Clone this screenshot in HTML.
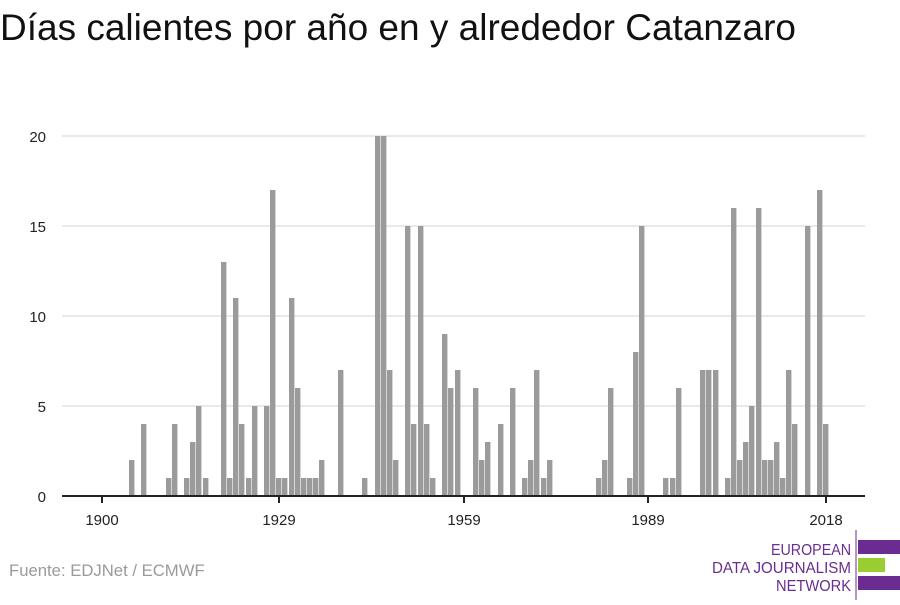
<!DOCTYPE html>
<html><head><meta charset="utf-8"><style>
body{margin:0;background:#fff;width:900px;height:600px;overflow:hidden;font-family:"Liberation Sans",sans-serif;}
</style></head><body>
<svg width="900" height="600" xmlns="http://www.w3.org/2000/svg" font-family="Liberation Sans, sans-serif">
<text x="0" y="40" font-size="37" fill="#111">Días calientes por año en y alrededor Catanzaro</text>
<g stroke="#e2e2e2" stroke-width="1.5">
<line x1="62" x2="865" y1="136" y2="136"/><line x1="62" x2="865" y1="226" y2="226"/>
<line x1="62" x2="865" y1="316" y2="316"/><line x1="62" x2="865" y1="406" y2="406"/>
</g>
<g font-size="15" fill="#222" text-anchor="end">
<text x="46" y="142">20</text><text x="46" y="232">15</text><text x="46" y="322">10</text>
<text x="46" y="412">5</text><text x="46" y="502">0</text>
</g>
<g fill="#9b9b9b" id="bars"></g>
<line x1="62" x2="865" y1="496" y2="496" stroke="#222" stroke-width="2"/>
<g stroke="#222" stroke-width="2">
<line x1="102" x2="102" y1="496" y2="503"/><line x1="279" x2="279" y1="496" y2="503"/>
<line x1="464" x2="464" y1="496" y2="503"/><line x1="648" x2="648" y1="496" y2="503"/>
<line x1="826" x2="826" y1="496" y2="503"/>
</g>
<g font-size="15" fill="#222" text-anchor="middle">
<text x="102" y="525">1900</text><text x="279" y="525">1929</text><text x="464" y="525">1959</text>
<text x="648" y="525">1989</text><text x="826" y="525">2018</text>
</g>
<text x="9" y="576" font-size="16.7" fill="#9a9a9a">Fuente: EDJNet / ECMWF</text>
<g fill="#6a2c91" font-size="16">
<text x="771" y="555" textLength="80" lengthAdjust="spacingAndGlyphs">EUROPEAN</text>
<text x="712" y="573" textLength="139" lengthAdjust="spacingAndGlyphs">DATA JOURNALISM</text>
<text x="776" y="591" textLength="75" lengthAdjust="spacingAndGlyphs">NETWORK</text>
</g>
<line x1="856" x2="856" y1="530" y2="600" stroke="#6a2c91" stroke-width="1"/>
<rect x="858" y="540" width="42" height="14" fill="#6a2c91"/>
<rect x="858" y="558" width="27" height="14" fill="#9acd32"/>
<rect x="858" y="576" width="42" height="14" fill="#6a2c91"/>
</svg>
<script>
var d=[[129,2],[141,4],[166,1],[172,4],[184,1],[190,3],[196,5],[203,1],[221,13],[227,1],[233,11],[239,4],[246,1],[252,5],[264,5],[270,17],[276,1],[282,1],[289,11],[295,6],[301,1],[307,1],[313,1],[319,2],[338,7],[362,1],[375,20],[381,20],[387,7],[393,2],[405,15],[411,4],[418,15],[424,4],[430,1],[442,9],[448,6],[455,7],[473,6],[479,2],[485,3],[498,4],[510,6],[522,1],[528,2],[534,7],[541,1],[547,2],[596,1],[602,2],[608,6],[627,1],[633,8],[639,15],[663,1],[670,1],[676,6],[700,7],[706,7],[713,7],[725,1],[731,16],[737,2],[743,3],[749,5],[756,16],[762,2],[768,2],[774,3],[780,1],[786,7],[792,4],[805,15],[817,17],[823,4]];
var g=document.getElementById('bars'),s='';
d.forEach(function(b){s+='<rect x="'+b[0]+'" y="'+(496-b[1]*18)+'" width="5.4" height="'+(b[1]*18)+'"/>';});
g.innerHTML=s;
</script>
</body></html>
